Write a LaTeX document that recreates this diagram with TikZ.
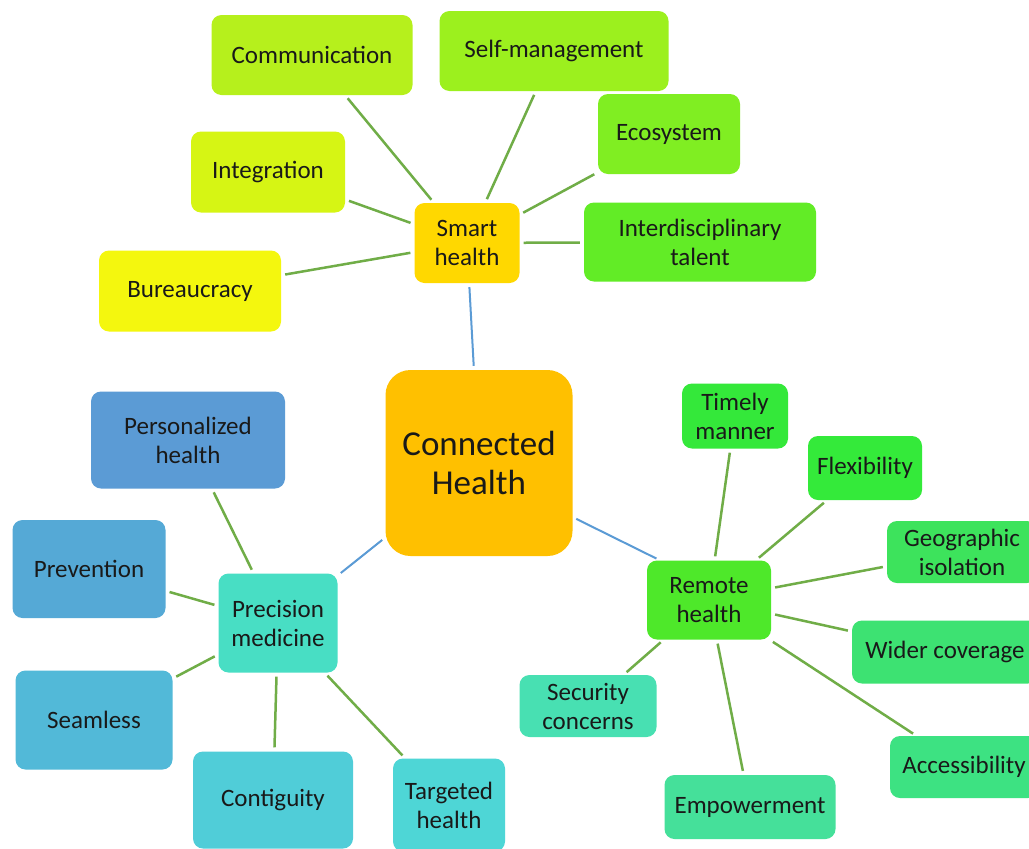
\documentclass[tikz,border=0pt]{standalone}
\usepackage{fontspec}
\setmainfont{Carlito}
\definecolor{lgreen}{HTML}{70AD47}
\definecolor{lblue}{HTML}{5B9BD5}
\definecolor{cCH}{HTML}{FFC000}
\definecolor{cSH}{HTML}{FFD800}
\definecolor{cComm}{HTML}{B6F01C}
\definecolor{cSelf}{HTML}{9CF01E}
\definecolor{cEco}{HTML}{80EE22}
\definecolor{cInteg}{HTML}{D6F514}
\definecolor{cInter}{HTML}{62EC26}
\definecolor{cBur}{HTML}{F4F70E}
\definecolor{cPers}{HTML}{5B9BD5}
\definecolor{cPrev}{HTML}{55A9D6}
\definecolor{cPM}{HTML}{48DEC4}
\definecolor{cSeam}{HTML}{52B9D8}
\definecolor{cCont}{HTML}{50CDD8}
\definecolor{cTarg}{HTML}{4ED6D6}
\definecolor{cRH}{HTML}{4EE82A}
\definecolor{cTime}{HTML}{34E83A}
\definecolor{cFlex}{HTML}{34EA3A}
\definecolor{cGeo}{HTML}{3DE35C}
\definecolor{cWide}{HTML}{3DE272}
\definecolor{cAcc}{HTML}{3DE282}
\definecolor{cEmp}{HTML}{45E09A}
\definecolor{cSec}{HTML}{48E0B2}
\begin{document}
\begin{tikzpicture}[x=1pt,y=-1pt,
  box/.style={rounded corners=10pt, align=center, inner sep=0pt,
    font=\fontsize{25}{29}\selectfont, text=black!90},
  bigbox/.style={rounded corners=25pt, align=center, inner sep=0pt,
    font=\fontsize{35}{39}\selectfont, text=black!90},
  link/.style={draw=lgreen, line width=2.5pt, shorten >=4pt, shorten <=4pt},
  mainlink/.style={draw=lblue, line width=2pt, shorten >=4pt, shorten <=4pt}]
\clip (0,0) rectangle (1029,849);
\fill[white] (0,0) rectangle (1029,849);

% centre
\node[bigbox, fill=cCH, minimum width=187pt, minimum height=186pt] (ch) at (479,463) {Connected\\Health};

% smart health branch
\node[box, fill=cSH, minimum width=105pt, minimum height=80pt] (sh) at (467,243) {Smart\\health};
\node[box, fill=cComm, minimum width=201pt, minimum height=80pt] (comm) at (312,55) {Communication};
\node[box, fill=cSelf, minimum width=229pt, minimum height=80pt] (self) at (554,51) {Self-management};
\node[box, fill=cEco, minimum width=142pt, minimum height=80pt] (eco) at (669,134) {Ecosystem};
\node[box, fill=cInteg, minimum width=154pt, minimum height=81pt] (integ) at (268,172) {Integration};
\node[box, fill=cInter, minimum width=232pt, minimum height=79pt] (inter) at (700,242) {Interdisciplinary\\talent};
\node[box, fill=cBur, minimum width=182pt, minimum height=81pt] (bur) at (190,291) {Bureaucracy};

% precision medicine branch
\node[box, fill=cPM, minimum width=119pt, minimum height=99pt] (pm) at (278,623) {Precision\\medicine};
\node[box, fill=cPers, minimum width=194pt, minimum height=97pt] (pers) at (188,440) {Personalized\\health};
\node[box, fill=cPrev, minimum width=153pt, minimum height=98pt] (prev) at (89,569) {Prevention};
\node[box, fill=cSeam, minimum width=157pt, minimum height=99pt] (seam) at (94,720) {Seamless};
\node[box, fill=cCont, minimum width=160pt, minimum height=97pt] (cont) at (273,800) {Contiguity};
\node[box, fill=cTarg, minimum width=112pt, minimum height=93pt] (targ) at (449,805) {Targeted\\health};

% remote health branch
\node[box, fill=cRH, minimum width=124pt, minimum height=79pt] (rh) at (709,600) {Remote\\health};
\node[box, fill=cTime, minimum width=106pt, minimum height=65pt] (time) at (735,416) {Timely\\manner};
\node[box, fill=cFlex, minimum width=114pt, minimum height=64pt] (flex) at (865,468) {Flexibility};
\node[box, fill=cGeo, minimum width=150pt, minimum height=62pt] (geo) at (962,552) {Geographic\\isolation};
\node[box, fill=cWide, minimum width=186pt, minimum height=63pt] (wide) at (945,652) {Wider coverage};
\node[box, fill=cAcc, minimum width=148pt, minimum height=62pt] (acc) at (964,767) {Accessibility};
\node[box, fill=cEmp, minimum width=171pt, minimum height=64pt] (emp) at (750,807) {Empowerment};
\node[box, fill=cSec, minimum width=137pt, minimum height=62pt] (sec) at (588,706) {Security\\concerns};

% connectors
\draw[mainlink] (sh) -- (ch);
\draw[mainlink] (ch) -- (pm);
\draw[mainlink] (ch.-30) -- (rh.141);

\draw[link] (comm) -- (sh);
\draw[link] (self) -- (sh);
\draw[link] (eco) -- (sh);
\draw[link] (integ) -- (sh);
\draw[link] (inter) -- (sh);
\draw[link] (bur) -- (sh);

\draw[link] (pers) -- (pm);
\draw[link] (prev) -- (pm);
\draw[link] (seam) -- (pm);
\draw[link] (cont) -- (pm);
\draw[link] (targ) -- (pm);

\draw[link] (time) -- (rh);
\draw[link] (flex) -- (rh);
\draw[link] (geo) -- (rh);
\draw[link] (wide) -- (rh);
\draw[link] (acc) -- (rh);
\draw[link] (emp) -- (rh);
\draw[link] (sec) -- (rh);
\end{tikzpicture}
\end{document}
